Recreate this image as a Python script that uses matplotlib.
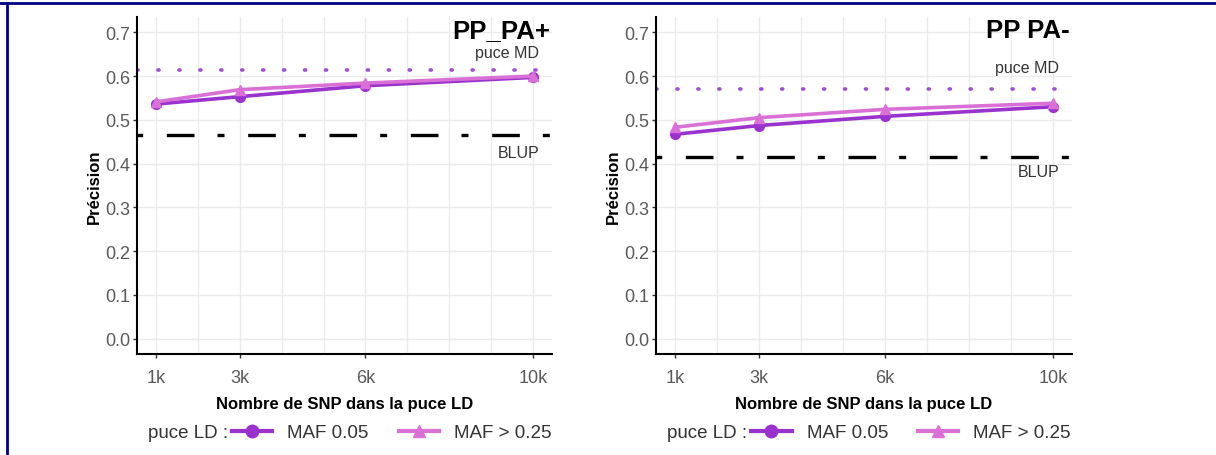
import matplotlib
matplotlib.use("Agg")
import matplotlib.pyplot as plt
from matplotlib.lines import Line2D

plt.rcParams["font.family"] = ["Liberation Sans", "DejaVu Sans"]

# data
snp = [1000, 3000, 6000, 10000]
snp_labels = ["1k", "3k", "6k", "10k"]
panel_titles = ["PP_PA+", "PP PA-"]
maf005 = [[0.536, 0.553, 0.578, 0.597], [0.467, 0.487, 0.508, 0.530]]
maf025 = [[0.541, 0.569, 0.584, 0.600], [0.483, 0.505, 0.524, 0.538]]
puce_md = [0.615, 0.570]
blup = [0.466, 0.416]
md_label_y = [0.653, 0.619]
blup_label_y = [0.426, 0.383]

c_dark = "#9A32CD"
c_light = "#DA70D6"
c_dot = "#9D4FD0"
grid_c = "#EBEBEB"
tick_c = "#5A5A5A"

fig = plt.figure(figsize=(12.16, 4.56), dpi=100)
positions = [[137 / 1216, 1 - 355 / 456, 415 / 1216, 337 / 456],
             [656 / 1216, 1 - 355 / 456, 416 / 1216, 337 / 456]]

for i, pos in enumerate(positions):
    ax = fig.add_axes(pos)
    ax.set_xlim(550, 10450)
    ax.set_ylim(-0.035, 0.735)

    ax.set_xticks(snp)
    ax.set_xticklabels(snp_labels)
    ax.set_xticks([2000, 4000, 5000, 7000, 8000, 9000], minor=True)
    ax.set_yticks([0.0, 0.1, 0.2, 0.3, 0.4, 0.5, 0.6, 0.7])
    ax.set_yticklabels(["0.0", "0.1", "0.2", "0.3", "0.4", "0.5", "0.6", "0.7"])
    ax.grid(True, which="both", color=grid_c, linewidth=1.0)
    ax.set_axisbelow(True)
    ax.tick_params(which="major", length=3, width=1, color="#333333",
                   labelsize=13, labelcolor=tick_c)
    ax.tick_params(axis="x", pad=8)
    ax.tick_params(axis="y", pad=2)
    ax.tick_params(which="minor", length=0)
    for s in ["top", "right"]:
        ax.spines[s].set_visible(False)
    for s in ["left", "bottom"]:
        ax.spines[s].set_linewidth(1.5)
        ax.spines[s].set_color("black")

    ax.axhline(puce_md[i], color=c_dot, linewidth=2.6, linestyle=(0, (0.3, 5.5)),
               dash_capstyle="round")
    ax.axhline(blup[i], color="black", linewidth=2.4,
               linestyle=(15.6, (8.3, 6.9, 2.1, 7.1)))

    ax.plot(snp, maf005[i], color=c_dark, linewidth=2.6, marker="o", markersize=7)
    ax.plot(snp, maf025[i], color=c_light, linewidth=2.6, marker="^", markersize=7.5)

    ax.text(10150, md_label_y[i], "puce MD", ha="right", va="center",
            fontsize=11.5, color="#333333")
    ax.text(10150, blup_label_y[i], "BLUP", ha="right", va="center",
            fontsize=11.5, color="#333333")
    ax.text(0.995, 0.96, panel_titles[i], transform=ax.transAxes, ha="right",
            va="center", fontsize=18.5, fontweight="bold", color="black")

    ax.set_xlabel("Nombre de SNP dans la puce LD", fontsize=12,
                  fontweight="bold", labelpad=7)
    ax.set_ylabel("Précision", fontsize=12, fontweight="bold", labelpad=2)

    ax.text(0.22, -0.234, "puce LD :", transform=ax.transAxes, ha="right",
            va="center", fontsize=13.5, color="#333333")
    handles = [Line2D([], [], color=c_dark, linewidth=3, marker="o", markersize=9),
               Line2D([], [], color=c_light, linewidth=3, marker="^", markersize=9)]
    ax.legend(handles, ["MAF 0.05", "MAF > 0.25"], loc="center left",
              bbox_to_anchor=(0.229, -0.234), ncol=2, frameon=False,
              borderpad=0, borderaxespad=0, handlelength=2.15,
              handletextpad=0.8, columnspacing=1.6, prop={"size": 13.5},
              labelcolor="#333333")

# outer frame (top and left edges)
fig.add_artist(Line2D([0, 1], [1 - 4 / 456, 1 - 4 / 456], transform=fig.transFigure,
                      color="#000080", linewidth=2))
fig.add_artist(Line2D([7 / 1216, 7 / 1216], [0, 1 - 4 / 456], transform=fig.transFigure,
                      color="#000080", linewidth=2))

fig.savefig("out.png", dpi=100)
plt.close(fig)
